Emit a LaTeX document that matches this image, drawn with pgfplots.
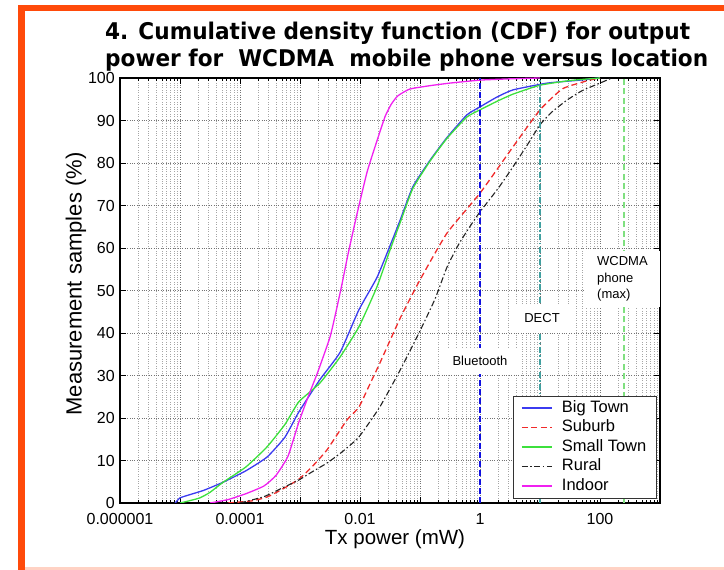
\documentclass[border=0pt]{standalone}
\usepackage{pgfplots}
\pgfplotsset{compat=1.18}
\usepackage{fontspec}
\setmainfont{Liberation Sans}
\newfontfamily\titlefont{DejaVu Sans}[FakeStretch=0.94]
\definecolor{bigtown}{HTML}{3B3BF0}
\definecolor{suburb}{HTML}{F02A2A}
\definecolor{smalltown}{HTML}{3CE03C}
\definecolor{rural}{HTML}{222222}
\definecolor{indoor}{HTML}{F020F0}
\definecolor{btline}{HTML}{1010E0}
\definecolor{dectline}{HTML}{40A0A0}
\definecolor{wcdmaline}{HTML}{80E080}
\definecolor{frameorange}{HTML}{FF4A0A}
\definecolor{framepink}{HTML}{FFD2C4}
\begin{document}
\begin{tikzpicture}[x=1pt,y=1pt]
\useasboundingbox (0,0) rectangle (724,570);
% slide frame
\fill[frameorange] (18,0) rectangle (25,565);
\fill[frameorange] (18,559) rectangle (724,565);
\fill[framepink] (25,0) rectangle (724,3);
% title
\node[anchor=base west, inner sep=0pt, font=\titlefont\bfseries\fontsize{23}{26}\selectfont] at (105,530) {4. Cumulative density function (CDF) for output};
\node[anchor=base west, inner sep=0pt, font=\titlefont\bfseries\fontsize{23}{26}\selectfont] at (105,503) {power for \ WCDMA \ mobile phone versus location};
\begin{axis}[
  at={(120pt,67pt)}, anchor=south west,
  width=540pt, height=425pt, scale only axis,
  xmode=log, xmin=1e-6, xmax=1000, ymin=0, ymax=100,
  xtick={1e-6,1e-5,1e-4,1e-3,1e-2,1e-1,1,10,100,1000},
  xticklabels={0.000001,,0.0001,,0.01,,1,,100,},
  ytick={0,10,20,30,40,50,60,70,80,90,100},
  minor y tick num=0,
  /pgf/number format/assume math mode=true,
  tick label style={font=\fontsize{16}{18}\selectfont, inner sep=0pt},
  x tick label style={yshift=-10pt},
  y tick label style={xshift=-5pt},
  grid=both,
  major grid style={dotted, line width=0.7pt, black!55},
  minor grid style={dotted, line width=0.6pt, black!35},
  axis line style={line width=1.4pt, black},
  tick style={black, line width=0.8pt},
  major tick length=6pt, minor tick length=3pt,
  tick align=inside,
  every axis plot/.append style={smooth, tension=0.3},
  legend cell align=left,
  legend style={at={(1,0)}, anchor=south east, xshift=-4pt, yshift=5pt,
    draw=black!80, font=\fontsize{16.5}{19.5}\selectfont,
    nodes={inner sep=1.5pt, text height=12.5pt, text depth=4pt},
    column sep=8pt, inner xsep=8pt, inner ysep=2pt},
  legend image code/.code={\draw[#1, sharp plot] (0pt,0pt) -- (30pt,0pt);},
]
\addplot[bigtown, line width=1.3pt] coordinates {
(8.32e-6,0) (1e-5,1.2) (1.41e-5,1.9) (2.51e-5,3.0) (5.25e-5,4.9) (1.26e-4,7.6)
(2.82e-4,10.8) (5.62e-4,15.5) (9.55e-4,21.4) (2.14e-3,29) (4.68e-3,35.5)
(9.55e-3,45.4) (0.0191,53) (0.0316,60.5) (0.0468,66.6) (0.0759,74.4)
(0.148,80.7) (0.282,86) (0.603,91.3) (1,93.2) (1.91,95.5) (3.55,97.2)
(13.2,98.8) (46.8,99.5) (100,100)};
\addlegendentry{Big Town}
\addplot[suburb, line width=1.3pt, dash pattern=on 6pt off 3.5pt] coordinates {
(6.31e-5,0) (1.58e-4,0.5) (2.82e-4,1.4) (5.01e-4,3.2) (9.55e-4,5.6)
(1.58e-3,8.5) (2.82e-3,12.5) (6.03e-3,19.5) (9.55e-3,22.5) (0.0141,27.5)
(0.0214,32.9) (0.0468,43.5) (0.1,52.5) (0.282,63.5) (1,72.9) (3.55,83.8)
(10,92.5) (24,97.5) (67.6,99.5) (100,100)};
\addlegendentry{Suburb}
\addplot[smalltown, line width=1.3pt] coordinates {
(1e-5,0) (1.41e-5,0.5) (2.14e-5,1.2) (3.16e-5,2.5) (5.25e-5,4.9) (1.26e-4,8.5)
(2.82e-4,13.2) (5.62e-4,18.5) (9.55e-4,23.8) (2.14e-3,28.2) (4.68e-3,34.4)
(9.55e-3,41.4) (0.0191,50.8) (0.0316,59.5) (0.0468,66) (0.0759,74)
(0.148,80.5) (0.282,85.8) (0.603,90.8) (1,92.5) (1.91,94.5) (3.55,96.2)
(10,98.3) (31.6,99.4) (100,100)};
\addlegendentry{Small Town}
\addplot[rural, line width=1.1pt, dash pattern=on 6pt off 2.5pt on 1.5pt off 2.5pt] coordinates {
(1e-4,0) (2.51e-4,1.5) (5.01e-4,3.5) (9.55e-4,5.4) (1.58e-3,7.3) (2.82e-3,9.4)
(5.01e-3,12) (9.55e-3,15.5) (0.0214,22.6) (0.0468,31.3) (0.1,40.5)
(0.178,48) (0.282,55.5) (0.447,61) (0.676,65) (1,68.5) (2.0,74) (3.55,79.1)
(6.31,84.5) (10,89) (15.8,92) (28.2,94.8) (50.1,97) (100,98.8) (158,100)};
\addlegendentry{Rural}
\addplot[indoor, line width=1.3pt] coordinates {
(3.16e-5,0) (6.31e-5,0.8) (1.26e-4,2.2) (2.51e-4,4.0) (3.98e-4,6.5)
(6.31e-4,11) (9.55e-4,19) (1.41e-3,25.5) (2.0e-3,31) (3.16e-3,39)
(3.98e-3,45) (5.01e-3,51.5) (6.31e-3,58.5) (8.91e-3,68) (0.0132,78)
(0.0200,86) (0.0263,91) (0.0331,93.8) (0.0427,95.8) (0.0676,97.4)
(0.148,98.2) (0.316,98.8) (1,99.5) (3.16,99.8) (10,100)};
\addlegendentry{Indoor}
% reference lines
\addplot[btline, sharp plot, line width=1.8pt, dash pattern=on 6pt off 3pt, forget plot] coordinates {(1,0) (1,100)};
\addplot[dectline, sharp plot, line width=1.3pt, dash pattern=on 6pt off 2.5pt on 1.5pt off 2.5pt, forget plot] coordinates {(10,0) (10,100)};
\addplot[wcdmaline, sharp plot, line width=1.5pt, dash pattern=on 6pt off 3.5pt, forget plot] coordinates {(251,0) (251,100)};
% annotations
\node[fill=white, inner xsep=12pt, inner ysep=8pt, font=\fontsize{13}{16}\selectfont] at (axis cs:1,33.4) {Bluetooth};
\node[fill=white, inner xsep=15pt, inner ysep=10pt, font=\fontsize{13}{16}\selectfont] at (axis cs:10.8,43.5) {DECT};
\node[fill=white, anchor=west, align=left, inner xsep=12pt, inner ysep=6pt, font=\fontsize{13}{16.5}\selectfont] at (axis cs:56.2,52.7) {WCDMA\\phone\\(max)};
\end{axis}
% axis labels
\node[anchor=base, inner sep=0pt, font=\fontsize{20.5}{24}\selectfont] at (395,25) {Tx power (mW)};
\node[rotate=90, inner sep=0pt, font=\fontsize{22}{26}\selectfont] at (76,286) {Measurement samples (\%)};
\end{tikzpicture}
\end{document}
